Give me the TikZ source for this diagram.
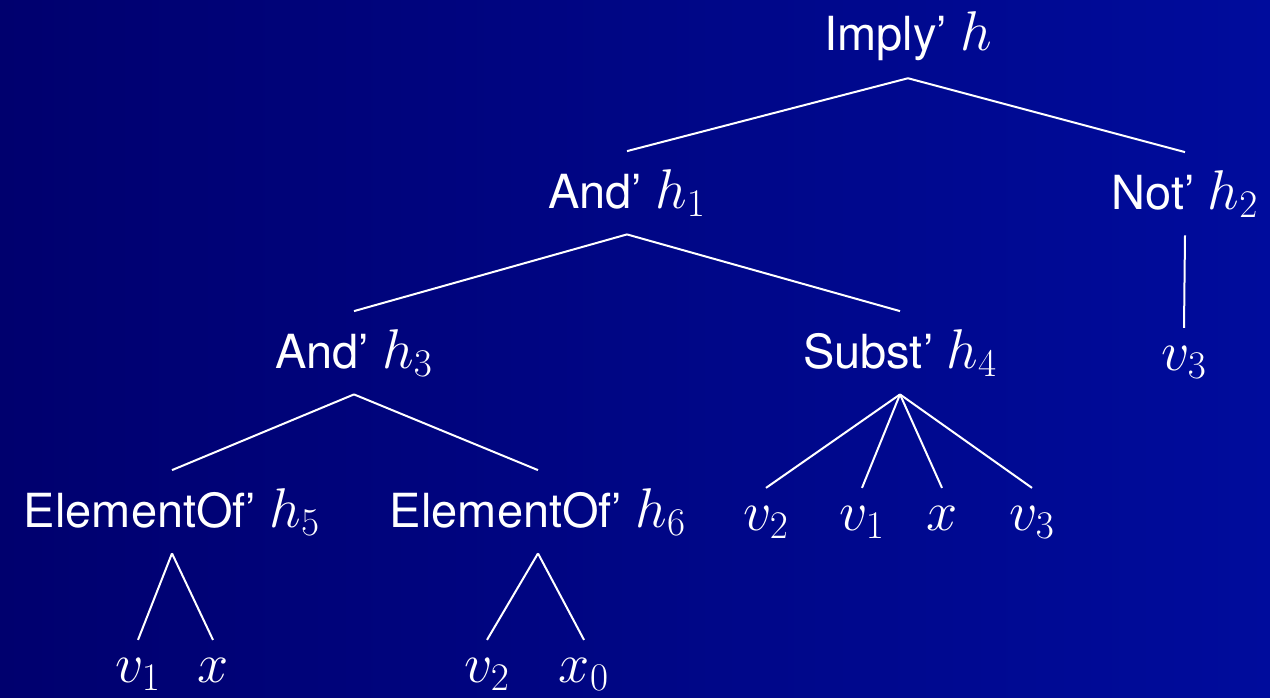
\RequirePackage{fix-cm}
\documentclass[tikz,border=0pt]{standalone}
\usepackage[no-math]{fontspec}
\setmainfont{TeX Gyre Heros}
\definecolor{bgL}{RGB}{0,0,110}
\definecolor{bgR}{RGB}{0,12,156}
\newcommand\mymath[1]{{\fontsize{28}{30}\selectfont$#1$}}
\tikzset{
  lbl/.style={text=white, font=\fontsize{23.5}{27}\selectfont, inner xsep=0pt, inner ysep=9pt, outer sep=0pt, anchor=base},
  edge/.style={draw=white, line width=1pt}
}
\begin{document}
\begin{tikzpicture}[x=0.5pt,y=-0.5pt]
\fill[left color=bgL,right color=bgR] (0,0) rectangle (1270,697);
\useasboundingbox (0,0) rectangle (1270,697);
\node[lbl] (imp) at (908,50) {Imply’ \mymath{h}};
\node[lbl] (and1) at (627,208) {And’ \mymath{h_1}};
\node[lbl] (not2) at (1185,209) {Not’ \mymath{h_2}};
\node[lbl] (and3) at (354,368) {And’ \mymath{h_3}};
\node[lbl] (sub4) at (900,368) {Subst’ \mymath{h_4}};
\node[lbl] (v3a) at (1184,370) {\mymath{v_3}};
\node[lbl] (el5) at (172,527) {ElementOf’ \mymath{h_5}};
\node[lbl] (el6) at (538,527) {ElementOf’ \mymath{h_6}};
\node[lbl] (v2a) at (766,530) {\mymath{v_2}};
\node[lbl] (v1a) at (862,530) {\mymath{v_1}};
\node[lbl] (xa) at (942,530) {\mymath{x}};
\node[lbl] (v3b) at (1032,530) {\mymath{v_3}};
\node[lbl] (v1b) at (138,682) {\mymath{v_1}};
\node[lbl] (xb) at (213,682) {\mymath{x}};
\node[lbl] (v2b) at (487,682) {\mymath{v_2}};
\node[lbl] (x0b) at (584,682) {\mymath{x_0}};
\draw[edge] (imp.south) -- (and1.north);
\draw[edge] (imp.south) -- (not2.north);
\draw[edge] (and1.south) -- (and3.north);
\draw[edge] (and1.south) -- (sub4.north);
\draw[edge] (not2.south) -- (v3a.north);
\draw[edge] (and3.south) -- (el5.north);
\draw[edge] (and3.south) -- (el6.north);
\draw[edge] (sub4.south) -- (v2a.north);
\draw[edge] (sub4.south) -- (v1a.north);
\draw[edge] (sub4.south) -- (xa.north);
\draw[edge] (sub4.south) -- (v3b.north);
\draw[edge] (el5.south) -- (v1b.north);
\draw[edge] (el5.south) -- (xb.north);
\draw[edge] (el6.south) -- (v2b.north);
\draw[edge] (el6.south) -- (x0b.north);
\end{tikzpicture}
\end{document}
